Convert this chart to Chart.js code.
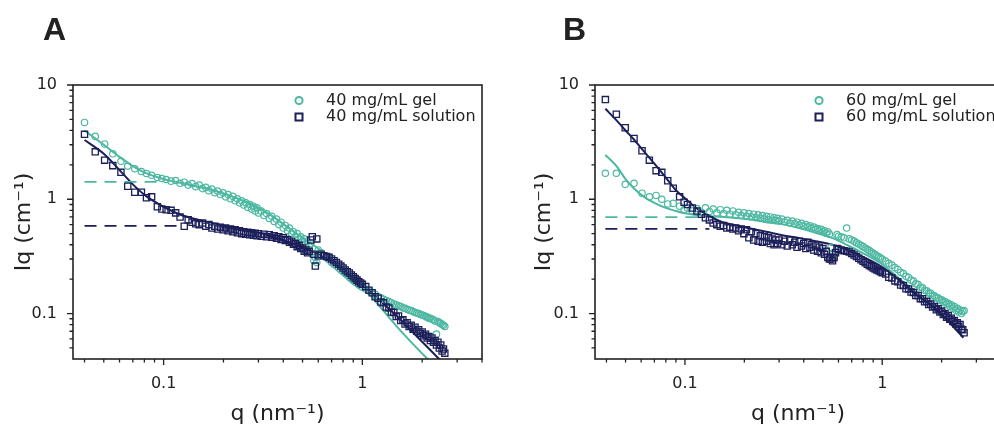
<!DOCTYPE html>
<html><head><meta charset="utf-8">
<script src="https://cdn.jsdelivr.net/npm/chart.js@4.4.1/dist/chart.umd.min.js"></script>
<style>
html,body{margin:0;padding:0;background:#fff;overflow:hidden;width:994px;height:429px;position:relative}
canvas{position:absolute;top:0}
.panel{position:absolute;z-index:2;font-family:"Liberation Sans",Arial,sans-serif;font-weight:bold;font-size:32px;color:#222;line-height:32px}
</style></head><body>
<div class="panel" style="left:43px;top:13px">A</div>
<div class="panel" style="left:563px;top:13px">B</div>
<canvas id="cA" width="497" height="429" style="left:0"></canvas>
<canvas id="cB" width="520" height="429" style="left:500px"></canvas>
<script>
const TEAL = '#4db8a1', NAVY = '#1c1f5a';

// ---------- Panel A data ----------
const qA = [0.040,0.0453,0.0505,0.0555,0.061,0.066,0.0716,0.0773,0.082,0.087,0.093,0.098,
  0.103,0.109,0.115,0.121,0.127,0.133,0.139,0.145,0.151,0.157,0.163,0.169,0.175,0.181,0.187,0.193,0.199,0.205,0.211,0.217,0.223,0.229,0.235,0.241,0.247,0.253,0.259,0.265,0.271,0.277,0.283,0.289,0.295,
  0.30,0.31,0.32,0.33,0.34,0.35,0.36,0.37,0.38,0.39,0.40,0.41,0.42,0.43,0.44,0.45,0.46,0.47,0.48,0.49,0.50,0.51,0.52,0.53,0.54,0.55,0.56,0.57,0.58,0.59,0.60,
  0.62,0.64,0.66,0.68,0.70,0.72,0.74,0.76,0.78,0.80,0.82,0.84,0.86,0.88,0.90,0.92,0.94,0.96,0.98,1.00,
  1.04,1.08,1.12,1.16,1.20,1.24,1.28,1.32,1.36,1.40,1.44,1.48,1.52,1.56,1.60,1.64,1.68,1.72,1.76,1.80,1.84,1.88,1.92,1.96,2.00,2.04,2.08,2.12,2.16,2.20,2.24,2.28,2.32,2.36,2.40,2.44,2.48,2.52,2.56,2.60];
const gelA = [4.7,3.55,3.05,2.5,2.15,1.95,1.85,1.75,1.68,1.62,1.55,1.52,
  1.49,1.44,1.46,1.38,1.41,1.33,1.37,1.29,1.33,1.24,1.27,1.19,1.23,1.14,1.18,1.10,1.14,1.05,1.10,1.01,1.06,0.97,1.01,0.93,0.97,0.89,0.93,0.85,0.90,0.82,0.87,0.79,0.84,
  0.76,0.79,0.72,0.75,0.68,0.71,0.64,0.67,0.60,0.63,0.56,0.59,0.53,0.56,0.50,0.52,0.47,0.50,0.45,0.47,0.43,0.45,0.41,0.43,0.39,0.41,0.33,0.29,0.31,0.28,0.36,
  0.34,0.32,0.31,0.295,0.28,0.27,0.26,0.25,0.24,0.232,0.224,0.216,0.208,0.201,0.195,0.189,0.184,0.179,0.174,0.17,
  0.164,0.158,0.152,0.147,0.141,0.137,0.133,0.130,0.127,0.124,0.121,0.119,0.117,0.115,0.112,0.111,0.109,0.107,0.106,0.104,0.102,0.101,0.100,0.098,0.097,0.096,0.094,0.093,0.091,0.091,0.089,0.088,0.086,0.066,0.085,0.083,0.082,0.080,0.079,0.077];
const solA = [3.7,2.6,2.2,1.97,1.72,1.30,1.15,1.15,1.03,1.05,0.86,0.82,
  0.81,0.80,0.76,0.70,0.58,0.66,0.63,0.61,0.60,0.62,0.58,0.60,0.56,0.58,0.55,0.57,0.54,0.56,0.53,0.55,0.52,0.54,0.51,0.53,0.50,0.52,0.495,0.515,0.49,0.51,0.485,0.505,0.48,
  0.50,0.475,0.495,0.47,0.49,0.465,0.48,0.455,0.47,0.445,0.46,0.435,0.445,0.42,0.43,0.405,0.41,0.385,0.395,0.37,0.375,0.35,0.36,0.34,0.35,0.44,0.47,0.33,0.26,0.45,0.32,
  0.33,0.32,0.315,0.31,0.30,0.29,0.28,0.27,0.26,0.25,0.24,0.232,0.226,0.217,0.21,0.203,0.196,0.19,0.185,0.18,
  0.172,0.160,0.152,0.140,0.136,0.126,0.124,0.114,0.112,0.103,0.102,0.094,0.095,0.087,0.088,0.081,0.083,0.077,0.079,0.073,0.076,0.070,0.072,0.067,0.069,0.064,0.066,0.061,0.063,0.058,0.061,0.056,0.058,0.053,0.056,0.050,0.053,0.047,0.049,0.045];
const fitGelAq = [0.04,0.05,0.06,0.07,0.08,0.1,0.13,0.17,0.22,0.28,0.35,0.42,0.5,0.6,0.7,0.8,0.9,1.0,1.2,1.5,1.8,2.1,2.3];
const fitGelA  = [4.0,3.0,2.35,1.95,1.72,1.5,1.36,1.22,1.06,0.9,0.72,0.57,0.46,0.37,0.3,0.245,0.205,0.175,0.12,0.076,0.054,0.041,0.035];
const fitSolAq = [0.04,0.05,0.06,0.07,0.082,0.1,0.12,0.15,0.2,0.25,0.33,0.4,0.48,0.6,0.7,0.85,1.0,1.2,1.5,1.8,2.1,2.4,2.5];
const fitSolA  = [3.3,2.5,1.8,1.35,1.06,0.86,0.74,0.66,0.59,0.55,0.49,0.44,0.39,0.33,0.285,0.225,0.18,0.135,0.094,0.068,0.052,0.041,0.038];
const dashGelAq = [0.04,0.1],   dashGelA = [1.42,1.42];
const dashSolAq = [0.04,0.125], dashSolA = [0.585,0.585];

// ---------- Panel B data ----------
const qB = [0.0395,0.0449,0.0498,0.0552,0.0606,0.066,0.0714,0.0763,0.0818,0.0872,0.094,0.099,
  0.103,0.109,0.115,0.121,0.127,0.133,0.139,0.145,0.151,0.157,0.163,0.169,0.175,0.181,0.187,0.193,0.199,0.205,0.211,0.217,0.223,0.229,0.235,0.241,0.247,0.253,0.259,0.265,0.271,0.277,0.283,0.289,0.295,
  0.30,0.31,0.32,0.33,0.34,0.35,0.36,0.37,0.38,0.39,0.40,0.41,0.42,0.43,0.44,0.45,0.46,0.47,0.48,0.49,0.50,0.51,0.52,0.53,0.54,0.55,0.56,0.57,0.58,0.59,0.60,
  0.62,0.64,0.66,0.68,0.70,0.72,0.74,0.76,0.78,0.80,0.82,0.84,0.86,0.88,0.90,0.92,0.94,0.96,0.98,1.00,
  1.04,1.08,1.12,1.16,1.20,1.24,1.28,1.32,1.36,1.40,1.44,1.48,1.52,1.56,1.60,1.64,1.68,1.72,1.76,1.80,1.84,1.88,1.92,1.96,2.00,2.04,2.08,2.12,2.16,2.20,2.24,2.28,2.32,2.36,2.40,2.44,2.48,2.52,2.56,2.60];
const gelB = [1.69,1.69,1.35,1.38,1.13,1.05,1.08,1.0,0.91,0.92,0.87,0.81,
  0.84,0.79,0.83,0.77,0.84,0.78,0.82,0.76,0.81,0.75,0.80,0.74,0.79,0.73,0.77,0.72,0.76,0.71,0.75,0.70,0.74,0.69,0.73,0.68,0.72,0.67,0.71,0.66,0.70,0.655,0.69,0.65,0.68,
  0.645,0.67,0.635,0.655,0.62,0.645,0.61,0.63,0.595,0.615,0.58,0.60,0.57,0.585,0.555,0.57,0.545,0.555,0.53,0.545,0.52,0.53,0.505,0.52,0.495,0.38,0.33,0.31,0.35,0.49,0.475,
  0.47,0.46,0.56,0.45,0.44,0.43,0.415,0.405,0.395,0.385,0.375,0.365,0.355,0.345,0.337,0.328,0.32,0.313,0.306,0.30,
  0.288,0.275,0.265,0.252,0.243,0.230,0.224,0.212,0.207,0.196,0.192,0.182,0.179,0.170,0.168,0.160,0.158,0.151,0.150,0.143,0.143,0.137,0.137,0.131,0.132,0.126,0.127,0.121,0.123,0.116,0.119,0.111,0.115,0.107,0.111,0.103,0.107,0.100,0.104,0.106];
const solB = [7.45,5.55,4.22,3.4,2.66,2.2,1.78,1.72,1.45,1.25,1.05,0.94,
  0.90,0.84,0.79,0.74,0.69,0.66,0.62,0.60,0.58,0.59,0.56,0.57,0.55,0.56,0.53,0.55,0.50,0.54,0.46,0.52,0.44,0.50,0.43,0.48,0.42,0.47,0.43,0.46,0.41,0.45,0.40,0.44,0.41,
  0.44,0.40,0.43,0.39,0.44,0.40,0.42,0.38,0.43,0.39,0.41,0.37,0.42,0.38,0.40,0.36,0.39,0.35,0.38,0.34,0.37,0.33,0.35,0.31,0.30,0.30,0.29,0.31,0.34,0.37,0.365,
  0.36,0.355,0.35,0.345,0.335,0.325,0.315,0.305,0.296,0.287,0.278,0.27,0.263,0.257,0.25,0.245,0.24,0.237,0.232,0.228,
  0.222,0.208,0.205,0.193,0.190,0.178,0.176,0.165,0.164,0.154,0.153,0.144,0.144,0.135,0.135,0.127,0.128,0.120,0.121,0.114,0.115,0.108,0.110,0.103,0.105,0.098,0.100,0.093,0.096,0.089,0.091,0.085,0.087,0.081,0.083,0.077,0.080,0.073,0.072,0.068];
const fitGelBq = [0.0395,0.045,0.05,0.055,0.062,0.07,0.08,0.09,0.1,0.12,0.144,0.2,0.258,0.32,0.38,0.46,0.56,0.68,0.824,1.0,1.21,1.5,1.79,2.1,2.4,2.58];
const fitGelB  = [2.44,1.95,1.5,1.25,1.05,0.93,0.84,0.79,0.755,0.72,0.706,0.675,0.64,0.6,0.56,0.51,0.457,0.39,0.328,0.27,0.205,0.152,0.118,0.09,0.072,0.062];
const fitSolBq = [0.0395,0.045,0.05,0.055,0.06,0.07,0.08,0.09,0.1,0.115,0.133,0.155,0.175,0.2,0.258,0.32,0.38,0.46,0.56,0.68,0.824,1.0,1.21,1.5,1.79,2.1,2.58];
const fitSolB  = [6.2,4.9,4.0,3.35,2.8,2.05,1.55,1.2,1.02,0.83,0.715,0.63,0.6,0.57,0.52,0.48,0.457,0.43,0.40,0.355,0.306,0.255,0.198,0.145,0.116,0.09,0.0614];
const dashGelBq = [0.0395,0.124], dashGelB = [0.697,0.697];
const dashSolBq = [0.0395,0.133], dashSolB = [0.551,0.551];

// ---------- ticks & labels ----------
const xMajor = [0.1, 1];
const xTickLabels = ['0.1', '1'];
const xMinor = [0.04,0.05,0.06,0.07,0.08,0.09,0.2,0.3,0.4,0.5,0.6,0.7,0.8,0.9,2,3,4];
const yMajor = [0.1, 1, 10];
const yTickLabels = ['0.1', '1', '10'];
const yMinor = [0.05,0.06,0.07,0.08,0.09,0.2,0.3,0.4,0.5,0.6,0.7,0.8,0.9,2,3,4,5,6,7,8,9];
const xTitle = 'q (nm⁻¹)';
const yTitle = 'Iq (cm⁻¹)';
const legendA = ['40 mg/mL gel', '40 mg/mL solution'];
const legendB = ['60 mg/mL gel', '60 mg/mL solution'];

const FONT = '"DejaVu Sans", Verdana, sans-serif';
function pts(xs, ys) { return xs.map((x, i) => ({x: x, y: ys[i]})); }

const framePlugin = {
  id: 'frame',
  afterDraw(chart, args, opts) {
    const {ctx, chartArea: a, scales: {x, y}} = chart;
    ctx.save();
    ctx.strokeStyle = '#222';
    ctx.lineWidth = 1.3;
    ctx.beginPath();
    xMajor.forEach(v => { const p = x.getPixelForValue(v); ctx.moveTo(p, a.bottom); ctx.lineTo(p, a.bottom + 6); });
    xMinor.forEach(v => { const p = x.getPixelForValue(v); ctx.moveTo(p, a.bottom); ctx.lineTo(p, a.bottom + 3.5); });
    yMajor.forEach(v => { const p = y.getPixelForValue(v); ctx.moveTo(a.left, p); ctx.lineTo(a.left - 6, p); });
    yMinor.forEach(v => { const p = y.getPixelForValue(v); ctx.moveTo(a.left, p); ctx.lineTo(a.left - 3.5, p); });
    ctx.stroke();
    ctx.lineWidth = 1.6;
    ctx.strokeRect(a.left, a.top, a.right - a.left, a.bottom - a.top);
    // legend
    const lx = a.left + opts.dx, ly = a.top + 15.5, dy = 16.5;
    ctx.lineWidth = 2;
    ctx.strokeStyle = TEAL;
    ctx.beginPath(); ctx.arc(lx, ly, 3.6, 0, Math.PI * 2); ctx.stroke();
    ctx.strokeStyle = NAVY;
    ctx.strokeRect(lx - 3.5, ly + dy - 3.5, 7, 7);
    ctx.fillStyle = '#222';
    ctx.font = '16px ' + FONT;
    ctx.textBaseline = 'middle';
    ctx.textAlign = 'left';
    ctx.fillText(opts.labels[0], lx + 27, ly);
    ctx.fillText(opts.labels[1], lx + 27, ly + dy);
    ctx.restore();
  }
};

function datasets(q, gel, sol, fgq, fg, fsq, fs, dgq, dg, dsq, ds) {
  return [
    {data: pts(q, sol), pointStyle: 'rect', pointRadius: 4.4, borderWidth: 1.3, borderColor: NAVY, backgroundColor: 'rgba(0,0,0,0)', showLine: false},
    {data: pts(q, gel), pointStyle: 'circle', pointRadius: 3.2, borderWidth: 1.2, borderColor: TEAL, backgroundColor: 'rgba(0,0,0,0)', showLine: false},
    {data: pts(dgq, dg), showLine: true, pointRadius: 0, borderWidth: 1.8, borderColor: TEAL, borderDash: [12, 8]},
    {data: pts(dsq, ds), showLine: true, pointRadius: 0, borderWidth: 1.8, borderColor: NAVY, borderDash: [12, 8]},
    {data: pts(fsq, fs), showLine: true, pointRadius: 0, borderWidth: 2, borderColor: NAVY, cubicInterpolationMode: 'monotone'},
    {data: pts(fgq, fg), showLine: true, pointRadius: 0, borderWidth: 2, borderColor: TEAL, cubicInterpolationMode: 'monotone'}
  ];
}

function makeChart(id, ds, o) {
  return new Chart(document.getElementById(id), {
    type: 'scatter',
    data: {datasets: ds},
    options: {
      responsive: false, animation: false, devicePixelRatio: 1,
      layout: {padding: {left: 0, top: 85, right: o.padRight, bottom: 0}},
      plugins: {legend: {display: false}, tooltip: {enabled: false}, frame: {dx: o.legendDx, labels: o.labels}},
      scales: {
        x: {
          type: 'logarithmic', min: 0.035, max: 4, position: 'bottom',
          grid: {display: false}, border: {display: false},
          afterBuildTicks: s => { s.ticks = xMajor.map(v => ({value: v})); },
          afterFit: s => { s.height = 70; },
          ticks: {autoSkip: false, maxRotation: 0, padding: 7, color: '#222', font: {family: FONT, size: 16},
                  callback: (v, i) => xTickLabels[i]},
          title: {display: true, text: xTitle, color: '#222', font: {family: FONT, size: 22}, padding: {top: 0, bottom: 2}}
        },
        y: {
          type: 'logarithmic', min: 0.04, max: 10, position: 'left',
          grid: {display: false}, border: {display: false},
          afterBuildTicks: s => { s.ticks = yMajor.map(v => ({value: v})); },
          afterFit: s => { s.width = o.yWidth; },
          ticks: {autoSkip: false, padding: 8, color: '#222', font: {family: FONT, size: 16},
                  callback: (v, i) => yTickLabels[i]},
          title: {display: true, text: yTitle, color: '#222', font: {family: FONT, size: 22}, padding: {top: o.yTitlePad, bottom: 0}}
        }
      }
    },
    plugins: [framePlugin]
  });
}

makeChart('cA', datasets(qA, gelA, solA, fitGelAq, fitGelA, fitSolAq, fitSolA, dashGelAq, dashGelA, dashSolAq, dashSolA),
  {padRight: 15, yWidth: 73, yTitlePad: 11, legendDx: 226, labels: legendA});
makeChart('cB', datasets(qB, gelB, solB, fitGelBq, fitGelB, fitSolBq, fitSolB, dashGelBq, dashGelB, dashSolBq, dashSolB),
  {padRight: 19, yWidth: 95, yTitlePad: 31, legendDx: 224, labels: legendB});
</script>
</body></html>
